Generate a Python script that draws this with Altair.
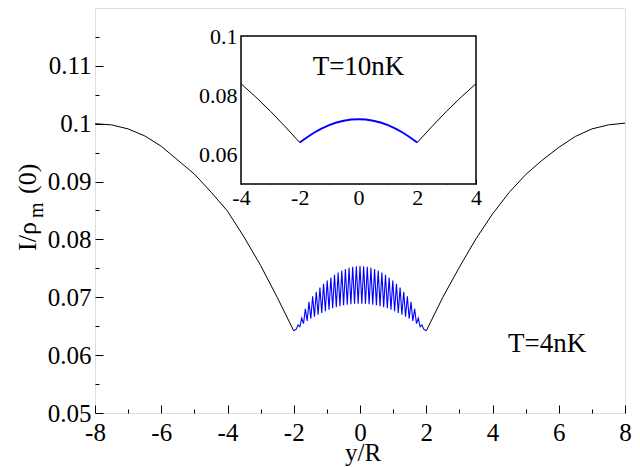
import altair as alt
import pandas as pd

# ---------------- data ----------------
# main panel, T = 4 nK
left_x = [-8, -7.5, -7, -6.5, -6, -5.5, -5, -4.5, -4, -3.5, -3, -2.5, -2]
left_y = [0.1000, 0.0998, 0.0991, 0.0979, 0.0961, 0.0937, 0.0913, 0.0882,
          0.0849, 0.0804, 0.0755, 0.0700, 0.0642]
right_x = [2, 2.5, 3, 3.5, 4, 4.5, 5, 5.5, 6, 6.5, 7, 7.5, 8]
right_y = [0.0642, 0.0700, 0.0752, 0.0801, 0.0844, 0.0881, 0.0912, 0.0937,
           0.0959, 0.0978, 0.0991, 0.0998, 0.1001]
osc_x = [-2.0, -1.925, -1.87, -1.815, -1.76, -1.705, -1.65, -1.595, -1.54, -1.485,
         -1.43, -1.375, -1.32, -1.265, -1.21, -1.155, -1.10, -1.045, -0.99, -0.935,
         -0.88, -0.825, -0.77, -0.715, -0.66, -0.605, -0.55, -0.495, -0.44, -0.385,
         -0.33, -0.275, -0.22, -0.165, -0.11, -0.055, 0.0,
         0.055, 0.11, 0.165, 0.22, 0.275, 0.33, 0.385, 0.44, 0.495, 0.55,
         0.605, 0.66, 0.715, 0.77, 0.825, 0.88, 0.935, 0.99, 1.045, 1.10,
         1.155, 1.21, 1.265, 1.32, 1.375, 1.43, 1.485, 1.54, 1.595, 1.65,
         1.705, 1.76, 1.815, 1.87, 1.925, 2.0]
osc_y = [0.06420, 0.06450, 0.06520, 0.06490, 0.06640, 0.06545, 0.06800, 0.06590, 0.06920, 0.06628,
         0.07015, 0.06664, 0.07096, 0.06698, 0.07168, 0.06730, 0.07232, 0.06760, 0.07290, 0.06787,
         0.07342, 0.06810, 0.07388, 0.06830, 0.07428, 0.06847, 0.07462, 0.06861, 0.07490, 0.06873,
         0.07512, 0.06881, 0.07528, 0.06887, 0.07537, 0.06890, 0.07540,
         0.06890, 0.07537, 0.06887, 0.07528, 0.06881, 0.07512, 0.06873, 0.07490, 0.06861, 0.07462,
         0.06847, 0.07428, 0.06830, 0.07388, 0.06810, 0.07342, 0.06787, 0.07290, 0.06760, 0.07232,
         0.06730, 0.07168, 0.06698, 0.07096, 0.06664, 0.07015, 0.06628, 0.06920, 0.06590, 0.06800,
         0.06545, 0.06640, 0.06490, 0.06520, 0.06450, 0.06420]

# inset, T = 10 nK
in_left_x = [-4, -3.5, -3, -2.5, -2]
in_left_y = [0.0839, 0.0794, 0.0746, 0.0694, 0.0640]
in_mid_x = [-2, -1.5, -1, -0.5, 0, 0.5, 1, 1.5, 2]
in_mid_y = [0.0640, 0.0674, 0.0699, 0.0714, 0.0719, 0.0714, 0.0699, 0.0674, 0.0640]
in_right_x = [2, 2.5, 3, 3.5, 4]
in_right_y = [0.0640, 0.0694, 0.0746, 0.0794, 0.0839]

# axes
main_x_major = [-8, -6, -4, -2, 0, 2, 4, 6, 8]
main_x_minor = [-7, -5, -3, -1, 1, 3, 5, 7]
main_y_major = [0.05, 0.06, 0.07, 0.08, 0.09, 0.1, 0.11]
main_y_minor = [0.055, 0.065, 0.075, 0.085, 0.095, 0.105, 0.115]
in_x_major = [-4, -2, 0, 2, 4]
in_x_minor = [-3, -1, 1, 3]
in_y_major = [0.06, 0.08, 0.1]
in_y_minor = [0.07, 0.09]

main_label = "T=4nK"
inset_label = "T=10nK"

# ---------------- layout constants ----------------
W, H = 530, 405
PAD_L = 87
FONT = "'Liberation Serif', 'Times New Roman', 'DejaVu Serif', serif"
IN_X_RANGE = [146, 381]
IN_Y_RANGE = [176, 28]


def seg(xs, ys, name):
    return pd.DataFrame({"x": xs, "y": ys, "seg": name, "i": range(len(xs))})


main_black = pd.concat([seg(left_x, left_y, "L"), seg(right_x, right_y, "R")])
main_blue = seg(osc_x, osc_y, "B")
in_black = pd.concat([seg(in_left_x, in_left_y, "L"), seg(in_right_x, in_right_y, "R")])
in_blue = seg(in_mid_x, in_mid_y, "B")


def xaxis(values, tick, offset, labels, size=25, pad=0):
    kw = dict(orient="top", offset=offset, values=values, tickSize=tick,
              tickColor="black", tickWidth=1, domain=False, grid=False,
              title=None, labels=labels)
    if labels:
        kw.update(labelFont=FONT, labelFontSize=size, labelColor="black",
                  labelPadding=pad, labelBaseline="top", labelAlign="center",
                  labelFlush=False, labelOverlap=False, labelBound=False,
                  labelExpr="'' + datum.value")
    return alt.Axis(**kw)


def yaxis(values, tick, offset, labels, size=25, pad=0):
    kw = dict(orient="right", offset=offset, values=values, tickSize=tick,
              tickColor="black", tickWidth=1, domain=False, grid=False,
              title=None, labels=labels)
    if labels:
        kw.update(labelFont=FONT, labelFontSize=size, labelColor="black",
                  labelPadding=pad, labelBaseline="middle", labelAlign="right",
                  labelFlush=False, labelOverlap=False, labelBound=False,
                  labelExpr="'' + datum.value")
    return alt.Axis(**kw)


sx_main = alt.Scale(domain=[-8, 8], nice=False, zero=False)
sy_main = alt.Scale(domain=[0.05, 0.12], nice=False, zero=False)
ax_main_x = xaxis(main_x_major, 8, -H, True, 25, -15)
ax_main_y = yaxis(main_y_major, 8, -W, True, 25, -12)

X = lambda: alt.X("x:Q", scale=sx_main, axis=ax_main_x)
Y = lambda: alt.Y("y:Q", scale=sy_main, axis=ax_main_y)

black = alt.Chart(main_black).mark_line(color="black", strokeWidth=1).encode(
    x=X(), y=Y(), detail="seg:N", order="i:Q")
blue = alt.Chart(main_blue).mark_line(color="#0000ff", strokeWidth=1.1).encode(
    x=X(), y=Y(), order="i:Q")
t4 = alt.Chart(pd.DataFrame({"x": [5.65], "y": [0.0605], "t": [main_label]})).mark_text(
    font=FONT, fontSize=27, color="black", align="center", baseline="alphabetic"
).encode(x=X(), y=Y(), text="t:N")

title_df = pd.DataFrame({"a": [0]})
xtitle = alt.Chart(title_df).mark_text(
    text="y/R", font=FONT, fontSize=25, color="black", align="center", baseline="alphabetic"
).encode(x=alt.value(W / 2 + 3), y=alt.value(453))
yt1 = alt.Chart(title_df).mark_text(
    text="I/ρ", font=FONT, fontSize=26, color="black", angle=270, align="left", baseline="alphabetic"
).encode(x=alt.value(36 - 8 - PAD_L), y=alt.value(243))
yt2 = alt.Chart(title_df).mark_text(
    text="m", font=FONT, fontSize=20, color="black", angle=270, align="left", baseline="alphabetic"
).encode(x=alt.value(43 - 8 - PAD_L), y=alt.value(210))
yt3 = alt.Chart(title_df).mark_text(
    text="(0)", font=FONT, fontSize=26, color="black", angle=270, align="left", baseline="alphabetic"
).encode(x=alt.value(36 - 8 - PAD_L), y=alt.value(186))

layer_main = alt.layer(black, blue, t4, xtitle, yt1, yt2, yt3)

bounds = pd.DataFrame({"x": [-8, 8], "y": [0.05, 0.12]})
layer_main_minor = alt.Chart(bounds).mark_point(opacity=0).encode(
    x=alt.X("x:Q", scale=alt.Scale(domain=[-8, 8], nice=False, zero=False),
            axis=xaxis(main_x_minor, 4, -H, False)),
    y=alt.Y("y:Q", scale=alt.Scale(domain=[0.05, 0.12], nice=False, zero=False),
            axis=yaxis(main_y_minor, 4, -W, False)),
)

# ---------------- inset ----------------
sx_in = alt.Scale(domain=[-4, 4], range=IN_X_RANGE, nice=False, zero=False)
sy_in = alt.Scale(domain=[0.05, 0.1], range=IN_Y_RANGE, nice=False, zero=False)
ax_in_x = xaxis(in_x_major, 5, -IN_Y_RANGE[0], True, 22, -8.5)
ax_in_y = yaxis(in_y_major, 5, IN_X_RANGE[0] - W, True, 22, -9)
XI = lambda: alt.X("x:Q", scale=sx_in, axis=ax_in_x)
YI = lambda: alt.Y("y:Q", scale=sy_in, axis=ax_in_y)

frame = alt.Chart(pd.DataFrame({"x": [-4], "x2": [4], "y": [0.05], "y2": [0.1]})).mark_rect(
    fill="white", stroke="black", strokeWidth=1.5
).encode(x=XI(), x2="x2:Q", y=YI(), y2="y2:Q")
in_b = alt.Chart(in_black).mark_line(color="black", strokeWidth=1).encode(
    x=XI(), y=YI(), detail="seg:N", order="i:Q")
in_u = alt.Chart(in_blue).mark_line(color="#0000ff", strokeWidth=2, interpolate="monotone").encode(
    x=XI(), y=YI(), order="i:Q")
t10 = alt.Chart(pd.DataFrame({"x": [0], "y": [0.0867], "t": [inset_label]})).mark_text(
    font=FONT, fontSize=27, color="black", align="center", baseline="alphabetic"
).encode(x=XI(), y=YI(), text="t:N")

layer_inset = alt.layer(frame, in_b, in_u, t10)

in_bounds = pd.DataFrame({"x": [-4, 4], "y": [0.05, 0.1]})
layer_inset_minor = alt.Chart(in_bounds).mark_point(opacity=0).encode(
    x=alt.X("x:Q", scale=alt.Scale(domain=[-4, 4], range=IN_X_RANGE, nice=False, zero=False),
            axis=xaxis(in_x_minor, 3, -IN_Y_RANGE[0], False)),
    y=alt.Y("y:Q", scale=alt.Scale(domain=[0.05, 0.1], range=IN_Y_RANGE, nice=False, zero=False),
            axis=yaxis(in_y_minor, 3, IN_X_RANGE[0] - W, False)),
)

chart = alt.layer(
    layer_main, layer_main_minor, layer_inset, layer_inset_minor
).resolve_scale(x="independent", y="independent").properties(
    width=W, height=H,
    autosize=alt.AutoSizeParams(type="none"),
    padding={"left": PAD_L, "top": 0, "right": 7, "bottom": 54},
).configure_view(stroke="black", strokeWidth=1.5).configure(background="white")

chart.save("out.html", embed_options={"renderer": "svg", "actions": False})
